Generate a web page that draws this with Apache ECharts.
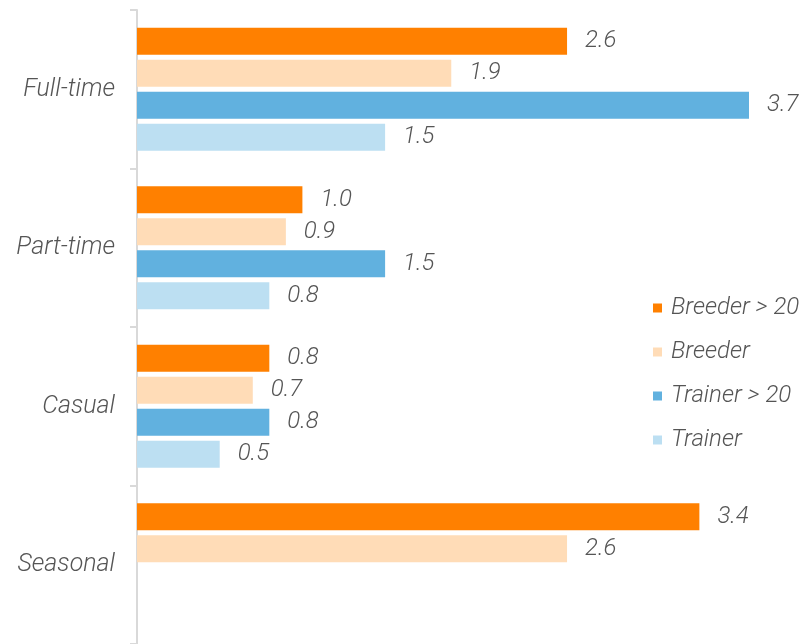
<!DOCTYPE html>
<html>
<head>
<meta charset="utf-8">
<script src="https://cdn.jsdelivr.net/npm/echarts@6/dist/echarts.min.js"></script>
<style>
  html, body { margin: 0; padding: 0; background: #fff; }
  #chart { width: 805px; height: 644px; }
</style>
</head>
<body>
<div id="chart"></div>
<script>
// Employment type categories (top to bottom)
const categories = ['Full-time', 'Part-time', 'Casual', 'Seasonal'];

// Average staff per business by type
const breederOver20 = [2.6, 1.0, 0.8, 3.4];
const breeder = [1.9, 0.9, 0.7, 2.6];
const trainerOver20 = [3.7, 1.5, 0.8, null];
const trainer = [1.5, 0.8, 0.5, null];

const seriesNames = ['Breeder > 20', 'Breeder', 'Trainer > 20', 'Trainer'];
const seriesData = [breederOver20, breeder, trainerOver20, trainer];
const colors = ['#ff8000', '#ffdcb7', '#61b1df', '#bcdff2'];

const textFont = {
  fontFamily: 'Roboto',
  fontStyle: 'italic',
  fontWeight: 300,
  color: '#555555'
};

const chart = echarts.init(document.getElementById('chart'));

chart.setOption({
  animation: false,
  color: colors,
  grid: { left: 137, right: 56, top: 10, bottom: 0, containLabel: false },
  legend: {
    orient: 'vertical',
    left: 648,
    top: 291,
    icon: 'rect',
    itemWidth: 9,
    itemHeight: 9,
    itemGap: 20,
    data: seriesNames,
    textStyle: Object.assign({}, textFont, { fontSize: 24, padding: [0, 0, 0, 4] })
  },
  xAxis: {
    type: 'value',
    min: 0,
    max: 3.7,
    show: false
  },
  yAxis: {
    type: 'category',
    data: categories,
    inverse: true,
    axisLine: { show: true, lineStyle: { color: '#d9d9d9', width: 2 } },
    axisTick: { show: true, length: 7, lineStyle: { color: '#d9d9d9', width: 2 } },
    axisLabel: Object.assign({}, textFont, { fontSize: 25, margin: 22, padding: [4, 0, 0, 0] }),
    splitLine: { show: false }
  },
  series: seriesNames.map((name, i) => ({
    name: name,
    type: 'bar',
    data: seriesData[i],
    barWidth: 27,
    barGap: '18.5%',
    itemStyle: { color: colors[i] },
    label: {
      show: true,
      position: 'right',
      distance: 18,
      padding: [3, 0, 0, 0],
      formatter: p => p.value == null ? '' : Number(p.value).toFixed(1),
      fontFamily: textFont.fontFamily,
      fontStyle: textFont.fontStyle,
      fontWeight: textFont.fontWeight,
      fontSize: 24,
      color: textFont.color
    }
  }))
});
</script>
</body>
</html>
